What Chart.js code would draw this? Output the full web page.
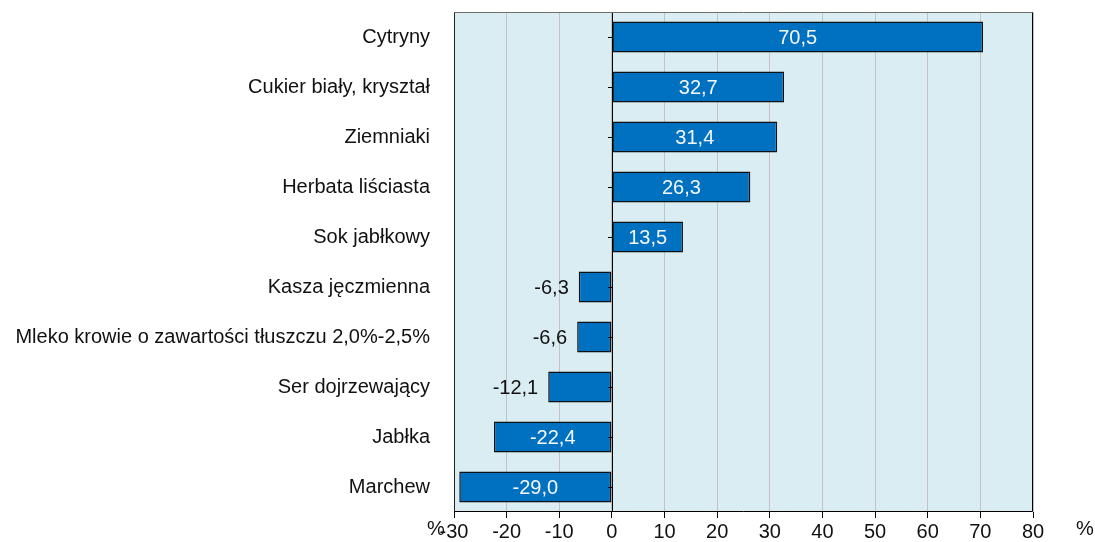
<!DOCTYPE html>
<html>
<head>
<meta charset="utf-8">
<script src="https://cdn.jsdelivr.net/npm/chart.js@4/dist/chart.umd.min.js"></script>
<style>
html,body{margin:0;padding:0;background:#fff;}
#wrap{width:1095px;height:542px;}
</style>
</head>
<body>
<div id="wrap"><canvas id="c" width="1095" height="542"></canvas></div>
<script>
const categories = [
  "Cytryny",
  "Cukier biały, kryształ",
  "Ziemniaki",
  "Herbata liściasta",
  "Sok jabłkowy",
  "Kasza jęczmienna",
  "Mleko krowie o zawartości tłuszczu 2,0%-2,5%",
  "Ser dojrzewający",
  "Jabłka",
  "Marchew"
];
const values = [70.5, 32.7, 31.4, 26.3, 13.5, -6.3, -6.6, -12.1, -22.4, -29.0];
const xTicks = [-30, -20, -10, 0, 10, 20, 30, 40, 50, 60, 70, 80];
const unitLabel = "%";

const FONT = "'Liberation Sans', Arial, sans-serif";
const FS = 20;

const fmt = v => v.toFixed(1).replace('.', ',');

const decor = {
  id: 'decor',
  beforeDraw(chart) {
    const {ctx, chartArea: a} = chart;
    ctx.save();
    ctx.fillStyle = '#daedf3';
    ctx.fillRect(a.left, a.top, a.right - a.left, a.bottom - a.top);
    ctx.restore();
  },
  afterDatasetsDraw(chart) {
    const {ctx, chartArea: a, scales} = chart;
    const x0 = scales.x.getPixelForValue(0);
    ctx.save();
    ctx.strokeStyle = '#000';
    ctx.lineWidth = 1;
    ctx.beginPath();
    ctx.moveTo(Math.round(x0) + 0.5, a.top);
    ctx.lineTo(Math.round(x0) + 0.5, a.bottom);
    ctx.stroke();
    categories.forEach((c, i) => {
      const y = Math.round(scales.y.getPixelForValue(i)) + 0.5;
      ctx.beginPath();
      ctx.moveTo(Math.round(x0) - 4, y);
      ctx.lineTo(Math.round(x0) + 0.5, y);
      ctx.stroke();
    });
    ctx.strokeStyle = '#6e6e6e';
    ctx.beginPath();
    ctx.moveTo(a.left + 0.5, a.top + 0.5);
    ctx.lineTo(a.right - 0.5, a.top + 0.5);
    ctx.stroke();
    ctx.strokeStyle = '#222';
    ctx.beginPath();
    ctx.moveTo(a.left + 0.5, a.top + 0.5);
    ctx.lineTo(a.left + 0.5, a.bottom - 0.5);
    ctx.stroke();
    ctx.strokeStyle = '#000';
    ctx.beginPath();
    ctx.moveTo(a.right - 0.5, a.top + 0.5);
    ctx.lineTo(a.right - 0.5, a.bottom - 0.5);
    ctx.lineTo(a.left, a.bottom - 0.5);
    ctx.stroke();

    ctx.font = FS + 'px ' + FONT;
    ctx.textBaseline = 'middle';
    const meta = chart.getDatasetMeta(0);
    meta.data.forEach((bar, i) => {
      const v = values[i];
      const w = Math.abs(bar.x - bar.base);
      const t = fmt(v);
      if (w >= 68) {
        ctx.fillStyle = '#f4f8fc';
        ctx.textAlign = 'center';
        ctx.fillText(t, (bar.x + bar.base) / 2, bar.y + 1);
      } else {
        ctx.fillStyle = '#111';
        if (v < 0) {
          ctx.textAlign = 'right';
          ctx.fillText(t, bar.x - 10, bar.y + 1);
        } else {
          ctx.textAlign = 'left';
          ctx.fillText(t, bar.x + 10, bar.y + 1);
        }
      }
    });

    ctx.fillStyle = '#111';
    ctx.textAlign = 'center';
    ctx.fillText(unitLabel, a.left - 18, a.bottom + 17);
    ctx.fillText(unitLabel, a.right + 52, a.bottom + 17);
    ctx.restore();
  }
};

new Chart(document.getElementById('c'), {
  type: 'bar',
  data: {
    labels: categories,
    datasets: [{
      data: values,
      backgroundColor: '#0070c0',
      borderColor: '#111',
      borderWidth: 1.5,
      borderSkipped: false,
      barPercentage: 0.62,
      categoryPercentage: 1.0
    }]
  },
  options: {
    indexAxis: 'y',
    responsive: false,
    animation: false,
    layout: { padding: { top: 12, right: 62, left: 0, bottom: 0 } },
    plugins: { legend: { display: false }, tooltip: { enabled: false } },
    scales: {
      x: {
        min: xTicks[0],
        max: xTicks[xTicks.length - 1],
        afterBuildTicks(scale) { scale.ticks = xTicks.map(v => ({ value: v })); },
        afterFit(scale) { scale.height = 30; scale.paddingLeft = 0; scale.paddingRight = 0; },
        border: { display: false },
        grid: {
          color: '#c3c3c3',
          lineWidth: 1,
          tickLength: 6,
          tickColor: '#000',
          drawTicks: true
        },
        ticks: {
          color: '#111',
          font: { family: FONT, size: FS },
          padding: 2,
          maxRotation: 0,
          autoSkip: false,
          callback: v => String(v)
        }
      },
      y: {
        afterFit(scale) { scale.width = 454; scale.paddingTop = 0; scale.paddingBottom = 0; },
        border: { display: false },
        grid: { display: false, drawTicks: false },
        ticks: {
          color: '#111',
          font: { family: FONT, size: FS },
          padding: 24,
          autoSkip: false
        }
      }
    }
  },
  plugins: [decor]
});
</script>
</body>
</html>
